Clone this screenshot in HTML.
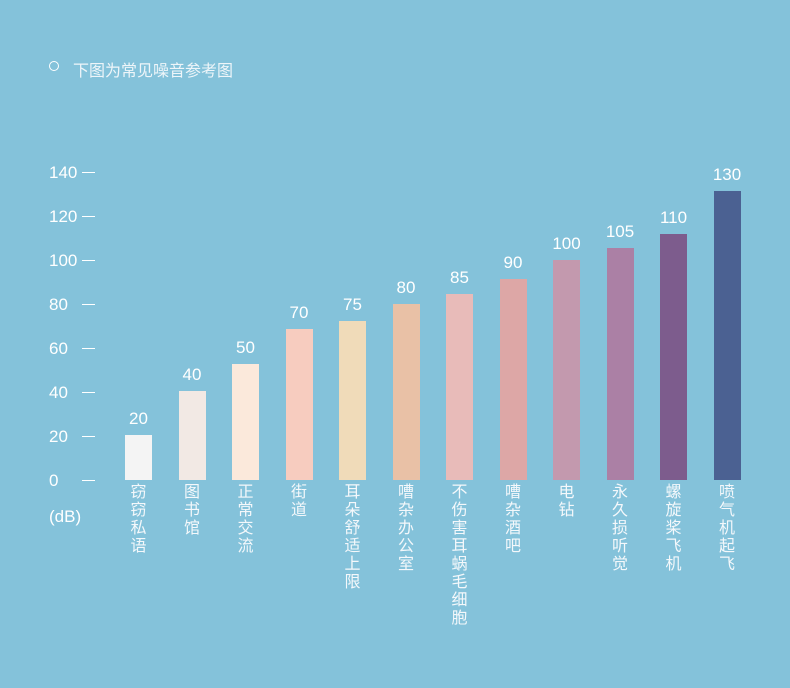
<!DOCTYPE html>
<html><head><meta charset="utf-8"><style>
body{margin:0;width:790px;height:688px;background:#84C2DA;position:relative;overflow:hidden;font-family:"Liberation Sans","Noto Sans CJK SC",sans-serif;color:#fff}
.a{position:absolute}
.yl{position:absolute;left:49px;font-size:17px;line-height:17px}
.tk{position:absolute;left:82px;width:13px;height:1px;background:#fff}
.bar{position:absolute;width:27px}
.v{position:absolute;font-size:17px;width:50px;text-align:center;line-height:17px}
.c{position:absolute;font-size:16px;width:26px;text-align:center;line-height:18px;top:484px;color:#f4f8fb}
</style></head><body>
<div class="a" style="left:49px;top:61px;width:8px;height:8px;border:1.5px solid #fff;border-radius:50%"></div>
<div class="a" style="left:73px;top:57px;font-size:16px;color:#eef5f9">下图为常见噪音参考图</div>

<div class="yl" style="top:164px">140</div><div class="tk" style="top:172px"></div>
<div class="yl" style="top:208px">120</div><div class="tk" style="top:216px"></div>
<div class="yl" style="top:252px">100</div><div class="tk" style="top:260px"></div>
<div class="yl" style="top:296px">80</div><div class="tk" style="top:304px"></div>
<div class="yl" style="top:340px">60</div><div class="tk" style="top:348px"></div>
<div class="yl" style="top:384px">40</div><div class="tk" style="top:392px"></div>
<div class="yl" style="top:428px">20</div><div class="tk" style="top:436px"></div>
<div class="yl" style="top:472px">0</div><div class="tk" style="top:480px"></div>
<div class="yl" style="top:508px">(dB)</div>

<div class="bar" style="left:125px;top:435px;height:45px;background:#F4F4F4"></div>
<div class="bar" style="left:178.5px;top:391px;height:89px;background:#F2E9E4"></div>
<div class="bar" style="left:232px;top:364px;height:116px;background:#FBE9DB"></div>
<div class="bar" style="left:285.5px;top:329px;height:151px;background:#F7CCBF"></div>
<div class="bar" style="left:339px;top:321px;height:159px;background:#F0DBB9"></div>
<div class="bar" style="left:392.5px;top:304px;height:176px;background:#E9C1A6"></div>
<div class="bar" style="left:446px;top:294px;height:186px;background:#E8BBB9"></div>
<div class="bar" style="left:499.5px;top:279px;height:201px;background:#DDA7A6"></div>
<div class="bar" style="left:553px;top:260px;height:220px;background:#C399AE"></div>
<div class="bar" style="left:606.5px;top:248px;height:232px;background:#AB80A5"></div>
<div class="bar" style="left:660px;top:234px;height:246px;background:#7D5C8D"></div>
<div class="bar" style="left:713.5px;top:191px;height:289px;background:#4B6192"></div>

<div class="v" style="left:113.5px;top:410px">20</div>
<div class="v" style="left:167px;top:366px">40</div>
<div class="v" style="left:220.5px;top:339px">50</div>
<div class="v" style="left:274px;top:304px">70</div>
<div class="v" style="left:327.5px;top:296px">75</div>
<div class="v" style="left:381px;top:279px">80</div>
<div class="v" style="left:434.5px;top:269px">85</div>
<div class="v" style="left:488px;top:254px">90</div>
<div class="v" style="left:541.5px;top:235px">100</div>
<div class="v" style="left:595px;top:223px">105</div>
<div class="v" style="left:648.5px;top:209px">110</div>
<div class="v" style="left:702px;top:166px">130</div>

<div class="c" style="left:125.5px">窃<br>窃<br>私<br>语</div>
<div class="c" style="left:179px">图<br>书<br>馆</div>
<div class="c" style="left:232.5px">正<br>常<br>交<br>流</div>
<div class="c" style="left:286px">街<br>道</div>
<div class="c" style="left:339.5px">耳<br>朵<br>舒<br>适<br>上<br>限</div>
<div class="c" style="left:393px">嘈<br>杂<br>办<br>公<br>室</div>
<div class="c" style="left:446.5px">不<br>伤<br>害<br>耳<br>蜗<br>毛<br>细<br>胞</div>
<div class="c" style="left:500px">嘈<br>杂<br>酒<br>吧</div>
<div class="c" style="left:553.5px">电<br>钻</div>
<div class="c" style="left:607px">永<br>久<br>损<br>听<br>觉</div>
<div class="c" style="left:660.5px">螺<br>旋<br>桨<br>飞<br>机</div>
<div class="c" style="left:714px">喷<br>气<br>机<br>起<br>飞</div>
</body></html>
